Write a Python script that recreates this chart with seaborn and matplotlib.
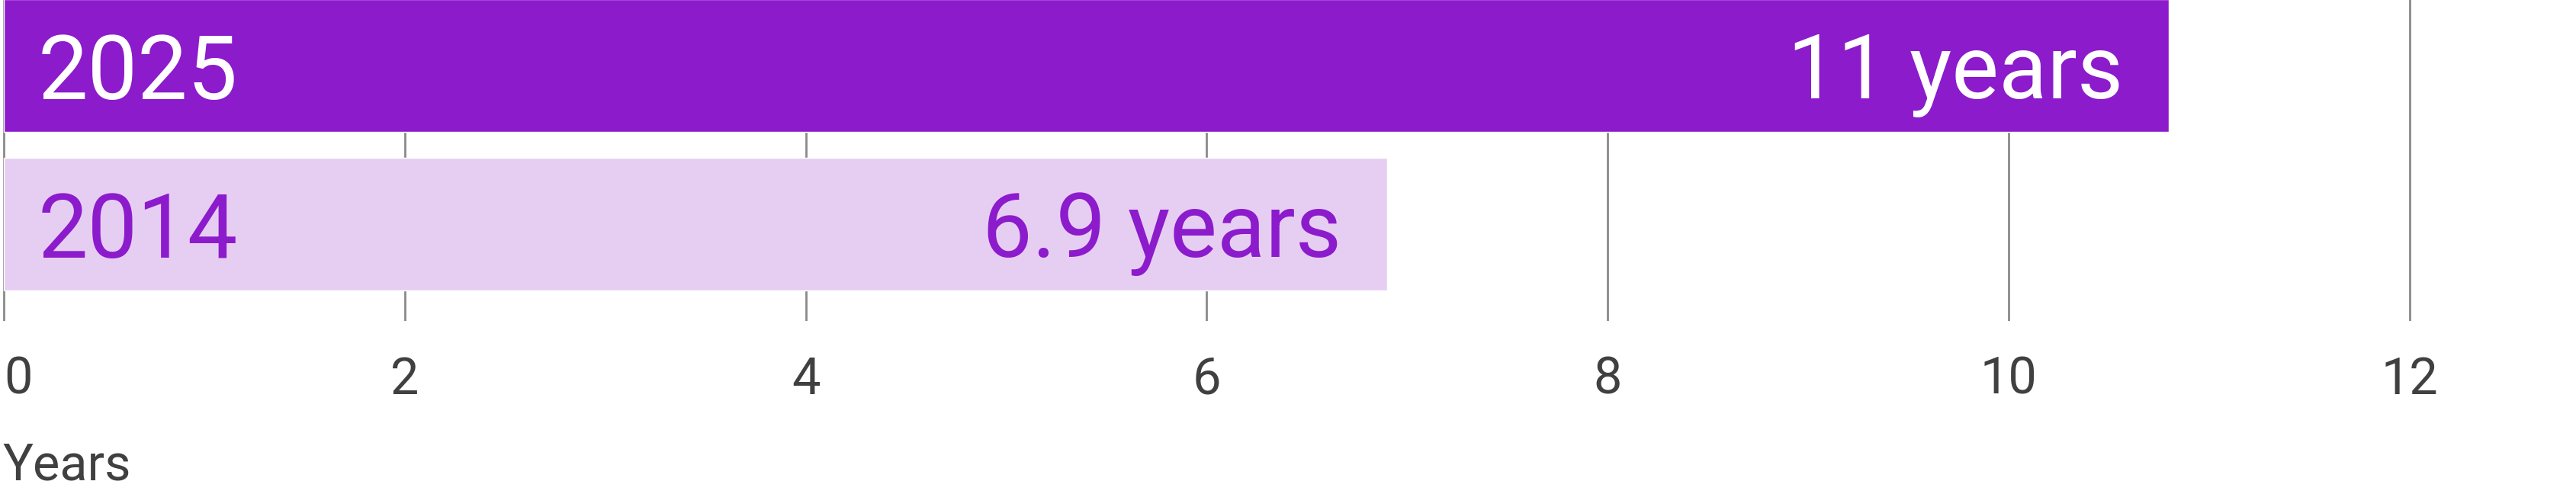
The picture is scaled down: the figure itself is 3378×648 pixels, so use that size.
import matplotlib
matplotlib.use("Agg")
import matplotlib.pyplot as plt
import seaborn as sns
import pandas as pd

# data
years = ["2025", "2014"]
tenure = [10.8, 6.9]
value_labels = ["11 years", "6.9 years"]
x_ticks = [0, 2, 4, 6, 8, 10, 12]

bar_colors = ["#8C1BCC", "#E6CEF3"]
text_colors = ["white", "#8C1BCC"]

sns.set_style("white")
plt.rcParams["font.family"] = ["Roboto", "DejaVu Sans"]

df = pd.DataFrame({"Year": years, "Tenure": tenure})

fig = plt.figure(figsize=(33.78, 6.48), dpi=100)
ax = fig.add_axes([0.0, 1 - 421 / 648, 1.0, 421 / 648])

sns.barplot(data=df, x="Tenure", y="Year", hue="Year", palette=bar_colors,
            orient="h", width=0.835, legend=False, ax=ax, zorder=2,
            saturation=1)

ax.set_xlim(-0.019, 12.83)
ax.set_ylim(1.612, -0.412)
ax.set_xticks(x_ticks)
ax.set_xticklabels([str(t) for t in x_ticks])
ax.set_yticks([])
ax.set_xlabel("")
ax.set_ylabel("")
for s in ax.spines.values():
    s.set_visible(False)

# gridlines sit behind the bars
for t in x_ticks:
    ax.axvline(t, color="#8a8a8a", lw=2, zorder=0)

ax.tick_params(axis="x", length=0, pad=33, labelsize=48, labelcolor="#404040")
ax.get_xticklabels()[0].set_horizontalalignment("left")

for i, (yr, val, lab) in enumerate(zip(years, tenure, value_labels)):
    ax.text(0.17, i, yr, ha="left", va="center_baseline", fontsize=84,
            color=text_colors[i], zorder=3)
    ax.text(val - 0.23, i, lab, ha="right", va="center_baseline", fontsize=84,
            color=text_colors[i], zorder=3)

fig.text(0.001, 1 - 611 / 648, "Years", ha="left", va="center",
         fontsize=48, color="#404040")

fig.savefig("out.png", dpi=100)
